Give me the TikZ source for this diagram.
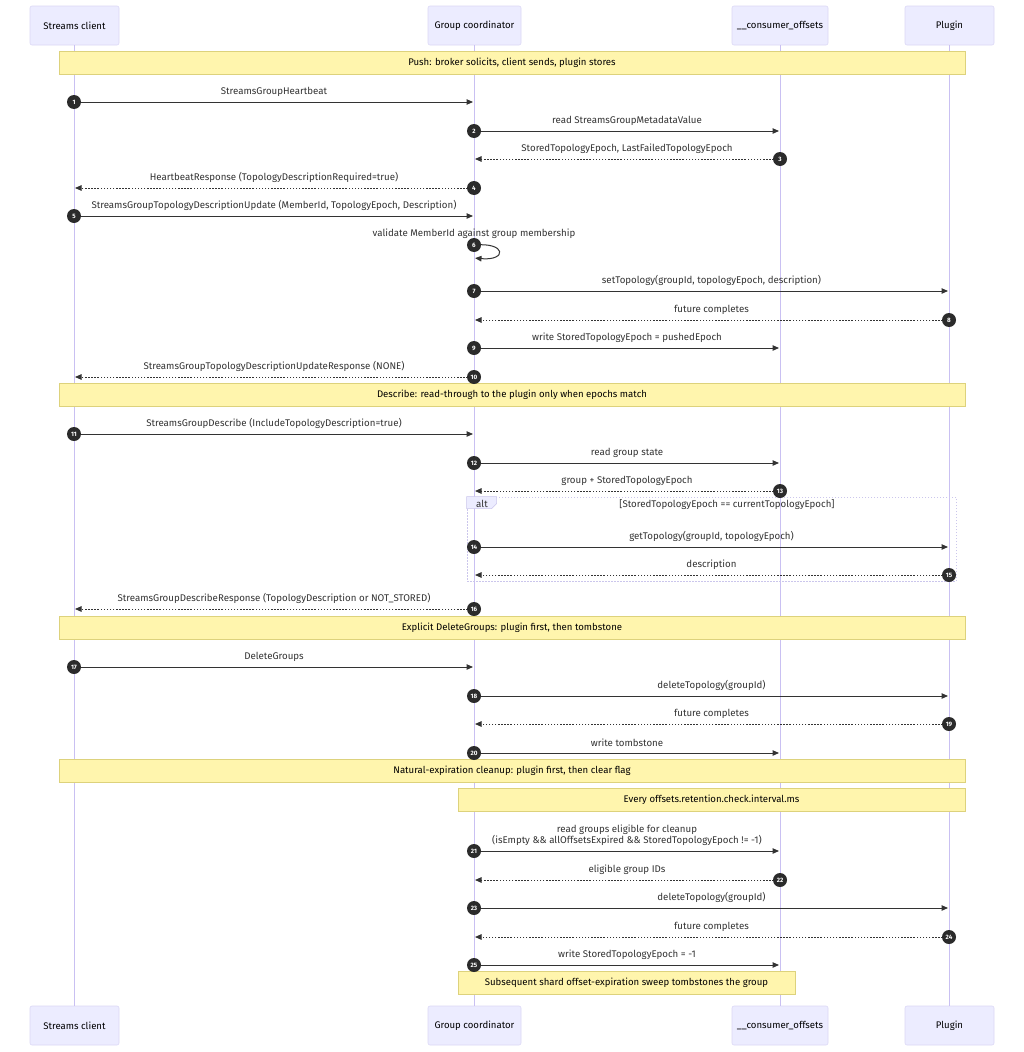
\documentclass[tikz,border=0pt]{standalone}
\usepackage{fontspec}
\setmainfont{Fira Sans}
\usetikzlibrary{arrows.meta,calc}
\definecolor{sig}{HTML}{333333}
\definecolor{numf}{HTML}{2B2B2B}
\definecolor{actf}{HTML}{ECECFF}
\definecolor{actb}{HTML}{DCD8F6}
\definecolor{lifec}{HTML}{C9C0F2}
\definecolor{notef}{HTML}{FFF5AD}
\definecolor{noteb}{HTML}{DDD27C}
\definecolor{altc}{HTML}{CBC6EC}
\newcommand\seqmsg[7]{%
  \coordinate (#1a) at (#2,#4);
  \coordinate (#1b) at (#3,#4);
  \draw[#5] (#1a) -- (#1b);
  \node[lbl] (#1l) at ($(#1a)!0.5!(#1b)+(0,-10.5)$) {#7};
  \node[numc] (#1n) at (#1a) {#6};
}
\tikzset{
  actor/.style={draw=actb, fill=actf, rounded corners=2pt, line width=0.6pt,
    font=\fontsize{9.6}{11}\selectfont, text=black},
  life/.style={draw=lifec, line width=0.7pt},
  note/.style={draw=noteb, fill=notef, line width=0.8pt,
    font=\fontsize{9.6}{11}\selectfont, text=black, inner sep=0pt},
  lbl/.style={font=\fontsize{9.7}{11}\selectfont, text=sig, inner sep=0pt, align=center},
  solidarr/.style={draw=sig, line width=1pt, -{Triangle[length=6.5pt,width=5.5pt]}, shorten >=1pt},
  dotarr/.style={solidarr, dash pattern=on 1.5pt off 1.6pt},
  numc/.style={circle, fill=numf, text=white, inner sep=0pt, minimum size=14pt,
    font=\fontsize{6.3}{7}\selectfont\bfseries},
  altbox/.style={draw=altc, line width=0.7pt, dash pattern=on 1.5pt off 1.5pt, inner sep=0pt},
}
\begin{document}
\begin{tikzpicture}[x=1pt,y=-1pt]
\useasboundingbox[fill=white] (0,0) rectangle (1024,1052);
% participants
\node[actor, minimum width=89pt, minimum height=39pt] (ct) at (74.5,25.5) {Streams client};
\node[actor, minimum width=93pt, minimum height=39pt] (gt) at (474.5,25.5) {Group coordinator};
\node[actor, minimum width=96pt, minimum height=39pt] (ot) at (780,25.5) {\_\_consumer\_offsets};
\node[actor, minimum width=89pt, minimum height=39pt] (pt) at (949.5,25.5) {Plugin};
\node[actor, minimum width=89pt, minimum height=39pt] (cb) at (74.5,1025.5) {Streams client};
\node[actor, minimum width=93pt, minimum height=39pt] (gb) at (474.5,1025.5) {Group coordinator};
\node[actor, minimum width=96pt, minimum height=39pt] (ob) at (780,1025.5) {\_\_consumer\_offsets};
\node[actor, minimum width=89pt, minimum height=39pt] (pb) at (949.5,1025.5) {Plugin};
% lifelines
\draw[life] (ct.south) -- (cb.north);
\draw[life] (gt.south) -- (gb.north);
\draw[life] (ot.south) -- (ob.north);
\draw[life] (pt.south) -- (pb.north);
% alt box
\node[altbox, minimum width=489pt, minimum height=84pt] (alt) at (711.5,539) {};
\draw[draw=altc, fill=actf, line width=0.6pt] (alt.north west) -- ++(30,0) -- ++(0,7) -- ++(-5,5) -- ++(-25,0) -- cycle;
\node[lbl] (altl) at (482,503.5) {alt};
\node[lbl] (altc) at (727,505) {[StoredTopologyEpoch == currentTopologyEpoch]};
% notes
\node[note, minimum width=906pt, minimum height=23pt] (n1) at (512,62.5) {Push: broker solicits, client sends, plugin stores};
\node[note, minimum width=906pt, minimum height=23pt] (n2) at (512,394.5) {Describe: read-through to the plugin only when epochs match};
\node[note, minimum width=906pt, minimum height=23pt] (n3) at (512,627.5) {Explicit DeleteGroups: plugin first, then tombstone};
\node[note, minimum width=906pt, minimum height=23pt] (n4) at (512,770.5) {Natural-expiration cleanup: plugin first, then clear flag};
\node[note, minimum width=507pt, minimum height=23pt] (n5) at (711.5,799.5) {Every offsets.retention.check.interval.ms};
\node[note, minimum width=337pt, minimum height=23pt] (n6) at (626.5,982.5) {Subsequent shard offset-expiration sweep tombstones the group};
% messages
\seqmsg{m1}{74}{474}{102}{solidarr}{1}{StreamsGroupHeartbeat}
\seqmsg{m2}{474}{780}{131}{solidarr}{2}{read StreamsGroupMetadataValue}
\seqmsg{m3}{780}{474}{159}{dotarr}{3}{StoredTopologyEpoch, LastFailedTopologyEpoch}
\seqmsg{m4}{474}{74}{188}{dotarr}{4}{HeartbeatResponse (TopologyDescriptionRequired=true)}
\seqmsg{m5}{74}{474}{216}{solidarr}{5}{StreamsGroupTopologyDescriptionUpdate (MemberId, TopologyEpoch, Description)}
% self message 6
\coordinate (m6a) at (474,245);
\coordinate (m6b) at (474,258);
\draw[solidarr] (m6a) .. controls (507,242) and (507,261) .. (m6b);
\node[lbl] (m6l) at (474,233.5) {validate MemberId against group membership};
\node[numc] (m6n) at (m6a) {6};
\seqmsg{m7}{474}{949}{291}{solidarr}{7}{setTopology(groupId, topologyEpoch, description)}
\seqmsg{m8}{949}{474}{320}{dotarr}{8}{future completes}
\seqmsg{m9}{474}{780}{348}{solidarr}{9}{write StoredTopologyEpoch = pushedEpoch}
\seqmsg{m10}{474}{74}{377}{dotarr}{10}{StreamsGroupTopologyDescriptionUpdateResponse (NONE)}
\seqmsg{m11}{74}{474}{434}{solidarr}{11}{StreamsGroupDescribe (IncludeTopologyDescription=true)}
\seqmsg{m12}{474}{780}{463}{solidarr}{12}{read group state}
\seqmsg{m13}{780}{474}{491}{dotarr}{13}{group + StoredTopologyEpoch}
\seqmsg{m14}{474}{949}{547}{solidarr}{14}{getTopology(groupId, topologyEpoch)}
\seqmsg{m15}{949}{474}{575}{dotarr}{15}{description}
\seqmsg{m16}{474}{74}{609}{dotarr}{16}{StreamsGroupDescribeResponse (TopologyDescription or NOT\_STORED)}
\seqmsg{m17}{74}{474}{667}{solidarr}{17}{DeleteGroups}
\seqmsg{m18}{474}{949}{696}{solidarr}{18}{deleteTopology(groupId)}
\seqmsg{m19}{949}{474}{724}{dotarr}{19}{future completes}
\seqmsg{m20}{474}{780}{753}{solidarr}{20}{write tombstone}
% message 21 (two-line label)
\coordinate (m21a) at (474,851);
\coordinate (m21b) at (780,851);
\draw[solidarr] (m21a) -- (m21b);
\node[lbl] (m21l) at (627,835) {read groups eligible for cleanup\\(isEmpty \&\& allOffsetsExpired \&\& StoredTopologyEpoch != -1)};
\node[numc] (m21n) at (m21a) {21};
\seqmsg{m22}{780}{474}{880}{dotarr}{22}{eligible group IDs}
\seqmsg{m23}{474}{949}{908}{solidarr}{23}{deleteTopology(groupId)}
\seqmsg{m24}{949}{474}{937}{dotarr}{24}{future completes}
\seqmsg{m25}{474}{780}{965}{solidarr}{25}{write StoredTopologyEpoch = -1}
\end{tikzpicture}
\end{document}
